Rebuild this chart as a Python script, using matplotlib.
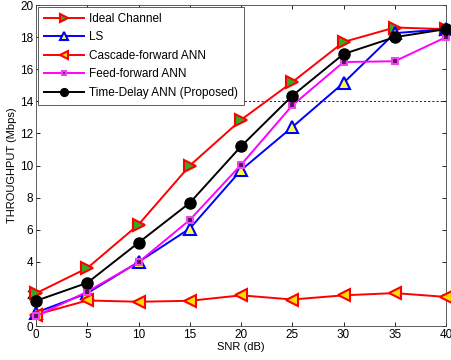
import numpy as np
import matplotlib
matplotlib.use('Agg')
import matplotlib.pyplot as plt

plt.rcParams.update({'font.size': 8, 'font.family': ['Liberation Sans', 'DejaVu Sans']})

snr = [0, 5, 10, 15, 20, 25, 30, 35, 40]
ideal = [2.05, 3.62, 6.33, 10.0, 12.85, 15.2, 17.7, 18.6, 18.5]
ls = [0.85, 2.05, 4.0, 6.08, 9.72, 12.4, 15.15, 18.25, 18.5]
cascade = [0.72, 1.6, 1.52, 1.58, 1.92, 1.66, 1.92, 2.06, 1.82]
feed = [0.62, 2.15, 3.98, 6.62, 10.05, 13.75, 16.45, 16.5, 18.0]
tdnn = [1.58, 2.7, 5.2, 7.68, 11.2, 14.35, 16.95, 18.0, 18.5]

fig = plt.figure(figsize=(4.51, 3.6), dpi=100)
ax = fig.add_axes([0.08, 0.094, 0.909, 0.892])

ax.axhline(14, color='black', linestyle='--', linewidth=0.6, dashes=(2.5, 2.5), zorder=1)

common = dict(lw=1.4, clip_on=False)
ax.plot(snr, ideal, color='red', marker='>', ms=8, mfc='#33aa22', mec='red', mew=1.5,
        label='Ideal Channel', zorder=3, **common)
ax.plot(snr, ls, color='blue', marker='^', ms=8, mfc='#ffff44', mec='blue', mew=1.5,
        label='LS', zorder=3, **common)
ax.plot(snr, cascade, color='red', marker='<', ms=8, mfc='#ffdd00', mec='red', mew=1.5,
        label='Cascade-forward ANN', zorder=3, **common)
ax.plot(snr, feed, color='magenta', marker='s', ms=5, mfc='#5a1060', mec='#ee44ee', mew=1.5,
        label='Feed-forward ANN', zorder=4, **common)
ax.plot(snr, tdnn, color='black', marker='o', ms=8, mfc='black', mec='black',
        label='Time-Delay ANN (Proposed)', zorder=5, **common)

ax.set_xlim(0, 40)
ax.set_ylim(0, 20)
ax.set_xticks(np.arange(0, 41, 5))
ax.set_yticks(np.arange(0, 21, 2))
ax.tick_params(direction='in', top=True, right=True, length=3, width=0.6, labelsize=8.5, pad=2)
for s in ax.spines.values():
    s.set_linewidth(0.6)
    s.set_color('#444444')

ax.set_xlabel('SNR (dB)', fontsize=8, labelpad=1)
ax.set_ylabel('THROUGHPUT (Mbps)', fontsize=8, labelpad=2)

leg = ax.legend(loc='upper left', fontsize=8.5, handlelength=3.4, markerscale=0.7,
                labelspacing=0.55, borderpad=0.5, handletextpad=0.4, borderaxespad=0.15,
                fancybox=False, framealpha=1, edgecolor='#444444')
leg.get_frame().set_linewidth(0.6)
leg.set_zorder(10)

fig.savefig('out.png', dpi=100)
